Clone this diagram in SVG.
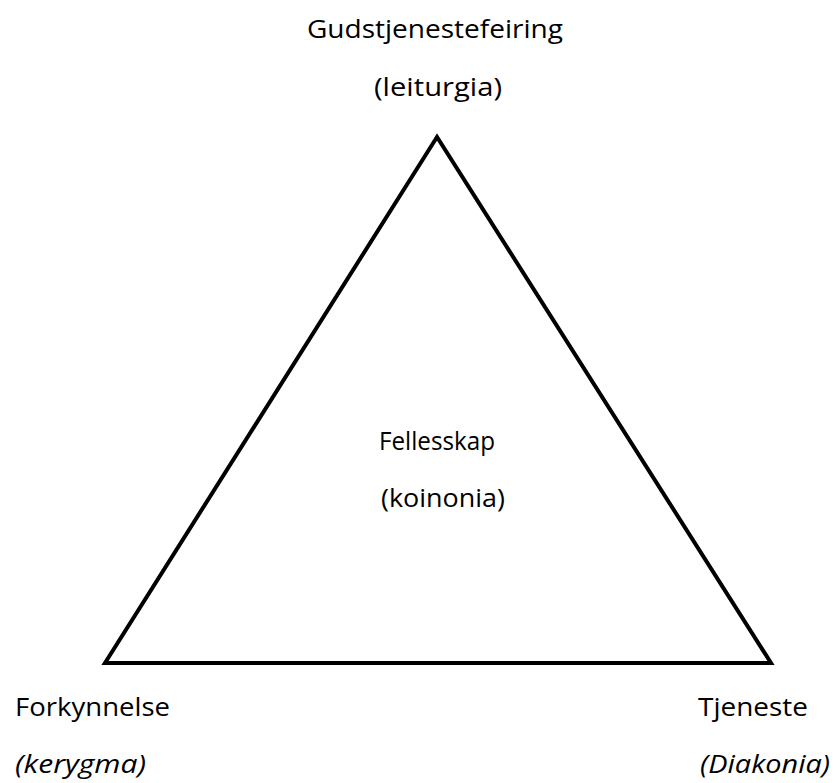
<svg xmlns="http://www.w3.org/2000/svg" width="834" height="783" viewBox="0 0 834 783">
<style>
text{font-family:"Open Sans","Noto Sans","Liberation Sans",sans-serif;font-size:26px;fill:#000}
.i{font-style:italic}
.tri{fill:none;stroke:#000;stroke-width:4;stroke-linejoin:miter}
</style>
<rect width="834" height="783" fill="#fff"/>
<g id="connectors">
<polygon class="tri" points="437,137 105,663 771,663"/>
</g>
<g id="top">
<text x="307" y="38" textLength="256" lengthAdjust="spacingAndGlyphs">Gudstjenestefeiring</text>
<text x="374" y="96" textLength="128" lengthAdjust="spacingAndGlyphs">(leiturgia)</text>
</g>
<g id="center">
<text x="379" y="450" textLength="116" lengthAdjust="spacingAndGlyphs">Fellesskap</text>
<text x="381" y="507" textLength="124" lengthAdjust="spacingAndGlyphs">(koinonia)</text>
</g>
<g id="left">
<text x="15" y="716" textLength="155" lengthAdjust="spacingAndGlyphs">Forkynnelse</text>
<text class="i" x="15" y="773" textLength="131" lengthAdjust="spacingAndGlyphs">(kerygma)</text>
</g>
<g id="right">
<text x="698" y="716" textLength="110" lengthAdjust="spacingAndGlyphs">Tjeneste</text>
<text class="i" x="700" y="773" textLength="130" lengthAdjust="spacingAndGlyphs">(Diakonia)</text>
</g>
</svg>
